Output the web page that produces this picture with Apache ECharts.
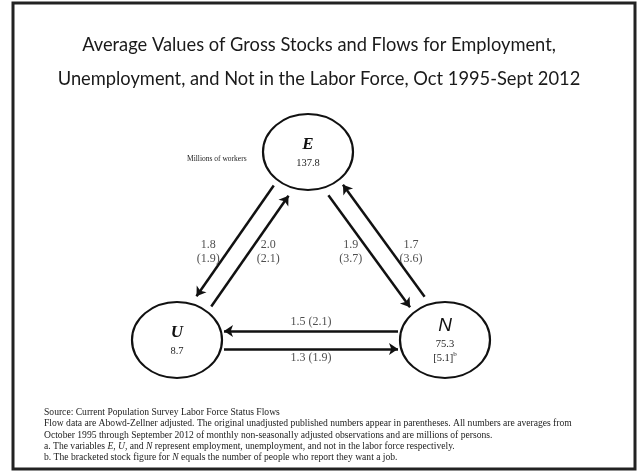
<!DOCTYPE html>
<html>
<head>
<meta charset="utf-8">
<script src="https://cdn.jsdelivr.net/npm/echarts@6/dist/echarts.min.js"></script>
<style>html,body{margin:0;padding:0;background:#fff}#c{width:638px;height:472px}</style>
</head>
<body>
<div id="c"></div>
<script>
// ---- data ----
const nodeNames = ['E', 'U', 'N'];
const stocks = [137.8, 8.7, 75.3];
const nWantJob = 5.1;
const flowFrom = ['E', 'U', 'E', 'N', 'N', 'U'];
const flowTo   = ['U', 'E', 'N', 'E', 'U', 'N'];
const flowAdjusted  = [1.8, 2.0, 1.9, 1.7, 1.5, 1.3];
const flowPublished = [1.9, 2.1, 3.7, 3.6, 2.1, 1.9];
const titleLines = [
  'Average Values of Gross Stocks and Flows for Employment,',
  'Unemployment, and Not in the Labor Force, Oct 1995-Sept 2012'
];
const unitNote = 'Millions of workers';

// ---- layout (positions in pixels of the hidden 638x472 value axes) ----
const layout = {
  centers: { E: [308, 152], U: [177, 340], N: [445, 340] },
  ellipse: [90, 76],
  trim: 47,
  lane: 9,
  labelY: 252,
  labelDx: 19,
  labelGap: 9
};

function fmt(v) { return v.toFixed(1); }

const edges = flowFrom.map((f, i) => {
  const a = layout.centers[f], b = layout.centers[flowTo[i]];
  const dx = b[0] - a[0], dy = b[1] - a[1];
  const len = Math.hypot(dx, dy);
  const ux = dx / len, uy = dy / len;
  const nx = -uy, ny = ux;
  const s = [a[0] + ux * layout.trim + nx * layout.lane, a[1] + uy * layout.trim + ny * layout.lane];
  const e = [b[0] - ux * layout.trim + nx * layout.lane, b[1] - uy * layout.trim + ny * layout.lane];
  let lp, text;
  if (Math.abs(dy) > 1) {
    const x = s[0] + (layout.labelY - s[1]) * (e[0] - s[0]) / (e[1] - s[1]);
    lp = [x + Math.sign(nx) * layout.labelDx, layout.labelY];
    text = fmt(flowAdjusted[i]) + '\n(' + fmt(flowPublished[i]) + ')';
  } else {
    lp = [(s[0] + e[0]) / 2, (s[1] + e[1]) / 2 + ny * layout.labelGap];
    text = fmt(flowAdjusted[i]) + ' (' + fmt(flowPublished[i]) + ')';
  }
  return { coords: [s, e], label: lp, text };
});

const serif = '"Liberation Serif", "Times New Roman", serif';

const nodeData = nodeNames.map((n, i) => {
  let t = '{nm|' + n + '}\n{v|' + stocks[i] + '}';
  if (n === 'N') t = '{nn|N}\n{v|' + stocks[i] + '}\n{v|[' + fmt(nWantJob) + ']}{sup|b}';
  return { value: layout.centers[n], name: n, labelText: t };
});

const chart = echarts.init(document.getElementById('c'), null, { renderer: 'canvas' });
chart.setOption({
  animation: false,
  backgroundColor: '#fff',
  title: {
    text: titleLines.join('\n'),
    left: 'center',
    top: 23,
    textStyle: { fontFamily: 'Lato, "Open Sans", sans-serif', fontSize: 18.3, fontWeight: 'normal', color: '#1a1a1a', lineHeight: 34 }
  },
  grid: { left: 0, right: 0, top: 0, bottom: 0 },
  xAxis: { type: 'value', min: 0, max: 638, show: false },
  yAxis: { type: 'value', min: 0, max: 472, inverse: true, show: false },
  series: [
    {
      type: 'scatter',
      z: 2,
      symbol: 'circle',
      symbolSize: layout.ellipse,
      itemStyle: { color: '#fff', borderColor: '#111', borderWidth: 2, opacity: 1 },
      label: {
        show: true, position: 'inside',
        formatter: p => p.data.labelText,
        rich: {
          nm: { fontFamily: serif, fontSize: 17, fontWeight: 'bold', fontStyle: 'italic', color: '#111', lineHeight: 22 },
          nn: { fontFamily: '"Liberation Sans", Arial, sans-serif', fontSize: 19, fontStyle: 'italic', color: '#111', lineHeight: 22 },
          v: { fontFamily: serif, fontSize: 10.5, color: '#222', lineHeight: 14 },
          sup: { fontFamily: serif, fontSize: 7, color: '#222', verticalAlign: 'top', lineHeight: 14, padding: [0, 0, 6, 0] }
        }
      },
      emphasis: { disabled: true },
      data: nodeData
    },
    {
      type: 'lines',
      coordinateSystem: 'cartesian2d',
      z: 3,
      symbol: ['none', 'arrow'],
      symbolSize: 9,
      lineStyle: { color: '#111', width: 2.5, opacity: 1 },
      emphasis: { disabled: true },
      data: edges.map(e => ({ coords: e.coords }))
    },
    {
      type: 'scatter',
      z: 4,
      symbolSize: 0,
      label: {
        show: true, position: 'inside',
        formatter: p => p.data.text,
        fontFamily: serif, fontSize: 12, color: '#222', lineHeight: 14
      },
      emphasis: { disabled: true },
      data: edges.map(e => ({ value: e.label, text: e.text }))
    }
  ],
  graphic: [
    { type: 'rect', z: 0, shape: { x: 13, y: 3, width: 622, height: 466 }, style: { fill: 'none', stroke: '#222', lineWidth: 3 } },
    { type: 'text', x: 187, y: 159, style: { text: unitNote, fontFamily: serif, fontSize: 7.5, fill: '#222', verticalAlign: 'middle' } },
    {
      type: 'text', x: 44, y: 407,
      style: {
        text: 'Source: Current Population Survey Labor Force Status Flows\n' +
              'Flow data are Abowd-Zellner adjusted. The original unadjusted published numbers appear in parentheses. All numbers are averages from\n' +
              'October 1995 through September 2012 of monthly non-seasonally adjusted observations and are millions of persons.\n' +
              'a. The variables {i|E}, {i|U}, and {i|N} represent employment, unemployment, and not in the labor force respectively.\n' +
              'b. The bracketed stock figure for {i|N} equals the number of people who report they want a job.',
        fontFamily: serif, fontSize: 9.6, fill: '#222', lineHeight: 11.3,
        rich: { i: { fontFamily: serif, fontSize: 9.6, fontStyle: 'italic', fill: '#222', lineHeight: 11.3 } }
      }
    }
  ]
});
</script>
</body>
</html>
